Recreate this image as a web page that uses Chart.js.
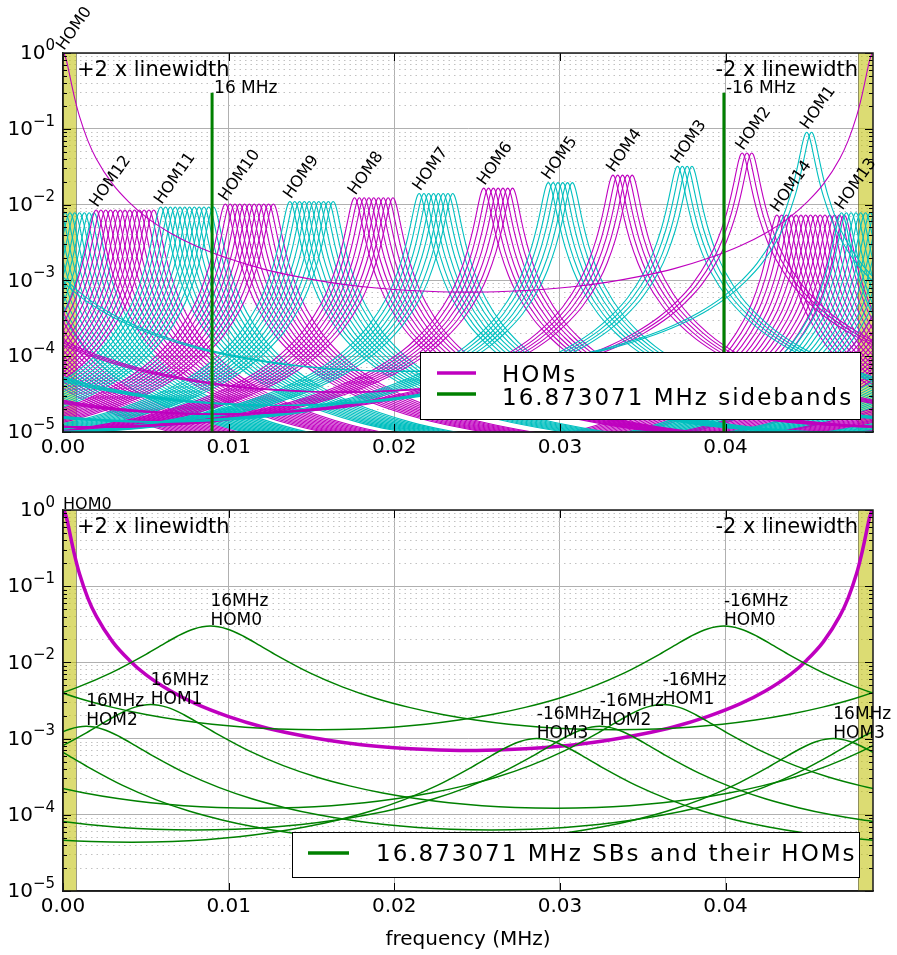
<!DOCTYPE html>
<html>
<head>
<meta charset="utf-8">
<script src="https://cdn.jsdelivr.net/npm/chart.js@4.4.0/dist/chart.umd.min.js"></script>
<style>
  html, body { margin: 0; padding: 0; background: #fff; }
  #wrap { position: relative; width: 897px; height: 955px; }
  canvas { position: absolute; left: 0; }
</style>
</head>
<body>
<div id="wrap">
  <canvas id="topChart" width="897" height="470" style="top:0"></canvas>
  <canvas id="bottomChart" width="897" height="485" style="top:470px"></canvas>
</div>
<script>
const FONT = 'DejaVu Sans';
const MAGENTA = '#bf00bf';
const CYAN = '#00bfbf';
const GREEN = '#008000';

// x axis spans one free spectral range (MHz)
const fsr = 0.0489;
const xTicks = [0, 0.01, 0.02, 0.03, 0.04];
const yDecades = [0, -1, -2, -3, -4, -5];

// cavity line shape (peak = 1)
const cavOffsets = [0, 0.0001, 0.0002, 0.0003, 0.0004, 0.0005, 0.0007, 0.001, 0.0015, 0.002, 0.003, 0.004,
  0.005, 0.0065, 0.008, 0.010, 0.012, 0.014, 0.016, 0.018, 0.020, 0.022, 0.02445];
const cavShape = [1, 0.944, 0.808, 0.652, 0.513, 0.403, 0.256, 0.1445, 0.0699, 0.0407, 0.0186, 0.0107,
  0.0069, 0.0042, 0.00287, 0.00194, 0.00143, 0.00114, 0.00095, 0.00083, 0.00076, 0.00072, 0.00070];

// broader shape of the green sideband curves (peak = 1)
const sbOffsets = [0, 0.001, 0.002, 0.003, 0.004, 0.006, 0.008, 0.010, 0.012, 0.014, 0.016, 0.018, 0.020, 0.022, 0.02445];
const sbShape = [1, 0.917, 0.735, 0.553, 0.413, 0.243, 0.158, 0.112, 0.0856, 0.069, 0.0584, 0.0514, 0.0470, 0.0445, 0.0435];

// top panel: HOM orders, position of the first mode of each order, peak height
const homOrders = [0, 1, 2, 3, 4, 5, 6, 7, 8, 9, 10, 11, 12, 13, 14];
const homFirstPeak = [0, 0.0449, 0.0410, 0.0371, 0.0332, 0.0293, 0.0254, 0.0215, 0.0176, 0.0137, 0.0098, 0.0059, 0.0020, 0.0470, 0.0431];
const homPeak = [1, 0.09, 0.048, 0.032, 0.0245, 0.0195, 0.0165, 0.014, 0.0123, 0.011, 0.0102, 0.0093, 0.0085, 0.0078, 0.0073];
const modeSplit = 0.00029;   // spacing of the N+1 modes inside one order

// sideband markers in the top panel
const sbMarkX = [0.0090, 0.0399];
const sbMarkTop = 0.3;
const sbMarkText = ['16 MHz', '-16 MHz'];

// bottom panel: sideband HOM curves
const sbNames = [['16MHz', 'HOM0'], ['16MHz', 'HOM1'], ['16MHz', 'HOM2'], ['16MHz', 'HOM3'],
  ['-16MHz', 'HOM0'], ['-16MHz', 'HOM1'], ['-16MHz', 'HOM2'], ['-16MHz', 'HOM3']];
const sbPeakX = [0.0089, 0.0053, 0.0014, 0.0465, 0.0399, 0.0362, 0.0324, 0.0286];
const sbPeakY = [0.030, 0.0028, 0.00145, 0.0010, 0.030, 0.0028, 0.00145, 0.0010];

// shaded edges (+/- 2 linewidths)
const bandLeft = [0, 0.0008];
const bandRight = [0.0480, 0.0489];

const yGrid = [1];
for (let k = -5; k < 0; k++) for (let m = 1; m <= 9; m++) yGrid.push(m * Math.pow(10, k));

function isDecade(v) {
  if (!v) return false;
  const l = Math.log10(v);
  return Math.abs(l - Math.round(l)) < 1e-6;
}

// place a line shape at a peak, repeated every fsr
function shapeCurve(center, height, offsets, shape) {
  const pts = [];
  for (let k = -1; k <= 1; k++) {
    const c = center + k * fsr;
    for (let i = offsets.length - 1; i >= 0; i--) pts.push({ x: c - offsets[i], y: height * shape[i] });
    for (let i = 1; i < offsets.length; i++) pts.push({ x: c + offsets[i], y: height * shape[i] });
  }
  pts.sort((a, b) => a.x - b.x);
  const out = [];
  for (const p of pts) {
    if (p.x < -0.02 || p.x > fsr + 0.02) continue;
    if (out.length && Math.abs(p.x - out[out.length - 1].x) < 1e-9) continue;
    out.push(p);
  }
  return out;
}

function makeOptions(padTop, xHeight, title) {
  return {
    responsive: false,
    animation: false,
    devicePixelRatio: 1,
    parsing: false,
    layout: { padding: { top: padTop, right: 24, left: 0, bottom: 0 } },
    plugins: { legend: { display: false }, tooltip: { enabled: false } },
    elements: {
      point: { radius: 0 },
      line: { cubicInterpolationMode: 'monotone', borderJoinStyle: 'round' }
    },
    scales: {
      x: {
        type: 'linear', min: 0, max: fsr,
        afterBuildTicks: s => { s.ticks = xTicks.map(v => ({ value: v })); },
        afterFit: s => { s.height = xHeight; },
        ticks: { font: { family: FONT, size: 20 }, color: '#000', padding: 4, maxRotation: 0, autoSkip: false,
          callback: v => v.toFixed(2) },
        grid: { color: '#b0b0b0', lineWidth: 1, drawTicks: false },
        border: { color: '#222', width: 1.5 },
        title: title ? { display: true, text: title, color: '#000', font: { family: FONT, size: 20 },
          padding: { top: 0, bottom: 3 } } : { display: false }
      },
      y: {
        type: 'logarithmic', min: 1e-5, max: 1,
        afterBuildTicks: s => { s.ticks = yGrid.map(v => ({ value: v })); },
        afterFit: s => { s.width = 63; },
        ticks: { display: false },
        grid: { color: c => isDecade(c.tick && c.tick.value) ? '#b0b0b0' : '#c2c2c2', lineWidth: 1, drawTicks: false },
        border: { color: '#222', width: 1.5, dash: c => (c.tick && !isDecade(c.tick.value)) ? [1.5, 4] : [] }
      }
    }
  };
}

function drawBands(chart) {
  const { ctx, chartArea: a, scales: { x } } = chart;
  ctx.save();
  [bandLeft, bandRight].forEach(b => {
    const x0 = x.getPixelForValue(b[0]), x1 = x.getPixelForValue(b[1]);
    ctx.fillStyle = 'rgba(191,191,0,0.55)';
    ctx.fillRect(x0, a.top, x1 - x0, a.bottom - a.top);
    ctx.strokeStyle = 'rgba(90,90,70,0.6)';
    ctx.lineWidth = 1;
    ctx.beginPath();
    const edge = b === bandLeft ? x1 : x0;
    ctx.moveTo(Math.round(edge) + 0.5, a.top);
    ctx.lineTo(Math.round(edge) + 0.5, a.bottom);
    ctx.stroke();
  });
  ctx.restore();
}

function drawFrame(chart) {
  const { ctx, chartArea: a, scales: { x, y } } = chart;
  ctx.save();
  ctx.strokeStyle = '#000';
  ctx.lineWidth = 1;
  ctx.beginPath();
  yGrid.forEach(v => {
    const py = Math.round(y.getPixelForValue(v)) + 0.5;
    const len = isDecade(v) ? 8 : 4;
    ctx.moveTo(a.left, py); ctx.lineTo(a.left + len, py);
    ctx.moveTo(a.right, py); ctx.lineTo(a.right - len, py);
  });
  xTicks.forEach(v => {
    const px = Math.round(x.getPixelForValue(v)) + 0.5;
    ctx.moveTo(px, a.bottom); ctx.lineTo(px, a.bottom - 8);
    ctx.moveTo(px, a.top); ctx.lineTo(px, a.top + 8);
  });
  ctx.stroke();
  ctx.strokeStyle = '#1a1a1a';
  ctx.lineWidth = 1.5;
  ctx.strokeRect(a.left, a.top, a.right - a.left, a.bottom - a.top);
  ctx.restore();
}

function drawYLabels(chart) {
  const { ctx, scales: { y } } = chart;
  ctx.save();
  ctx.fillStyle = '#000';
  ctx.textBaseline = 'middle';
  yDecades.forEach(k => {
    const py = y.getPixelForValue(Math.pow(10, k));
    const exp = k === 0 ? '0' : '\u2212' + (-k);
    ctx.font = '15px ' + FONT;
    const we = ctx.measureText(exp).width;
    ctx.font = '20px ' + FONT;
    const wb = ctx.measureText('10').width;
    const right = 55;
    ctx.fillText('10', right - we - wb, py + 1);
    ctx.font = '15px ' + FONT;
    ctx.fillText(exp, right - we, py - 7);
  });
  ctx.restore();
}

function drawEdgeText(chart) {
  const { ctx, chartArea: a } = chart;
  ctx.save();
  ctx.fillStyle = '#000';
  ctx.font = '21px ' + FONT;
  ctx.textBaseline = 'alphabetic';
  ctx.textAlign = 'left';
  ctx.fillText('+2 x linewidth', a.left + 14, a.top + 23);
  ctx.textAlign = 'right';
  ctx.fillText('-2 x linewidth', a.right - 15, a.top + 23);
  ctx.restore();
}

function drawLegend(ctx, box, rows, lineX, textX, fontSize) {
  ctx.save();
  ctx.fillStyle = '#fff';
  ctx.fillRect(box.x, box.y, box.w, box.h);
  ctx.strokeStyle = '#000';
  ctx.lineWidth = 1;
  ctx.strokeRect(box.x, box.y, box.w, box.h);
  ctx.font = fontSize + 'px ' + FONT;
  ctx.fillStyle = '#000';
  ctx.textBaseline = 'alphabetic';
  rows.forEach(r => {
    ctx.strokeStyle = r.color;
    ctx.lineWidth = 3.5;
    ctx.beginPath();
    ctx.moveTo(lineX[0], r.y);
    ctx.lineTo(lineX[1], r.y);
    ctx.stroke();
    ctx.letterSpacing = '2px';
    ctx.fillText(r.text, textX, r.base);
  });
  ctx.restore();
}

// ---------- top panel ----------
const topSets = [];
sbMarkX.forEach(x => topSets.push({
  data: [{ x: x, y: 1e-6 }, { x: x, y: sbMarkTop }],
  borderColor: GREEN, borderWidth: 3, cubicInterpolationMode: 'default', tension: 0
}));
homOrders.forEach(n => {
  for (let m = 0; m <= n; m++) {
    topSets.push({
      data: shapeCurve(homFirstPeak[n] + m * modeSplit, homPeak[n], cavOffsets, cavShape),
      borderColor: n % 2 ? CYAN : MAGENTA,
      borderWidth: 1.1
    });
  }
});

const topDecor = {
  id: 'topDecor',
  beforeDatasetsDraw: c => drawBands(c),
  afterDatasetsDraw: c => drawFrame(c),
  afterDraw(c) {
    const { ctx, scales: { x, y } } = c;
    drawYLabels(c);
    drawEdgeText(c);
    ctx.save();
    ctx.fillStyle = '#000';
    ctx.font = '16px ' + FONT;
    homOrders.forEach(n => {
      ctx.save();
      ctx.translate(x.getPixelForValue(homFirstPeak[n]) + 1, y.getPixelForValue(homPeak[n]) - 2);
      ctx.rotate(-55 * Math.PI / 180);
      ctx.fillText('HOM' + n, 0, 0);
      ctx.restore();
    });
    ctx.font = '17px ' + FONT;
    sbMarkX.forEach((v, i) => {
      ctx.fillText(sbMarkText[i], x.getPixelForValue(v) + 2, y.getPixelForValue(sbMarkTop));
    });
    ctx.restore();
    drawLegend(ctx, { x: 420.5, y: 352.5, w: 440, h: 67 }, [
      { color: MAGENTA, text: 'HOMs', y: 373, base: 382 },
      { color: GREEN, text: '16.873071 MHz sidebands', y: 394, base: 405 }
    ], [437, 476], 502, 23);
  }
};

new Chart(document.getElementById('topChart'), {
  type: 'line',
  data: { datasets: topSets },
  options: makeOptions(53, 38, null),
  plugins: [topDecor]
});

// ---------- bottom panel ----------
const botSets = [];
sbPeakX.forEach((v, i) => botSets.push({
  data: shapeCurve(v, sbPeakY[i], sbOffsets, sbShape),
  borderColor: GREEN, borderWidth: 1.5
}));
botSets.push({ data: shapeCurve(0, 1, cavOffsets, cavShape), borderColor: MAGENTA, borderWidth: 3.5 });

const botDecor = {
  id: 'botDecor',
  beforeDatasetsDraw: c => drawBands(c),
  afterDatasetsDraw: c => drawFrame(c),
  afterDraw(c) {
    const { ctx, chartArea: a, scales: { x, y } } = c;
    drawYLabels(c);
    drawEdgeText(c);
    ctx.save();
    ctx.fillStyle = '#000';
    ctx.font = '16px ' + FONT;
    ctx.fillText('HOM0', a.left, a.top - 1);
    ctx.font = '17px ' + FONT;
    sbPeakX.forEach((v, i) => {
      const px = x.getPixelForValue(v), py = y.getPixelForValue(sbPeakY[i]);
      ctx.fillText(sbNames[i][0], px, py - 20);
      ctx.fillText(sbNames[i][1], px, py - 1);
    });
    ctx.restore();
    drawLegend(ctx, { x: 292.5, y: 362.5, w: 567, h: 45 }, [
      { color: GREEN, text: '16.873071 MHz SBs and their HOMs', y: 383, base: 391 }
    ], [308, 349], 376, 23);
  }
};

new Chart(document.getElementById('bottomChart'), {
  type: 'line',
  data: { datasets: botSets },
  options: makeOptions(40, 64, 'frequency (MHz)'),
  plugins: [botDecor]
});
</script>
</body>
</html>
